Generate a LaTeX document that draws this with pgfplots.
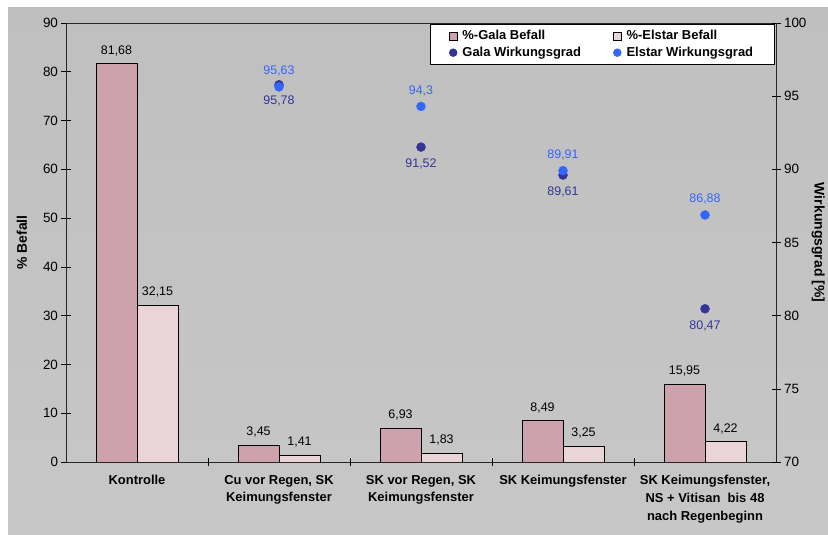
\documentclass[border=0pt]{standalone}
\usepackage{pgfplots}
\pgfplotsset{compat=1.18}
\usepackage{fontspec}
\setmainfont{Liberation Sans}
\definecolor{galabar}{RGB}{206,162,172}
\definecolor{elstarbar}{RGB}{233,212,216}
\definecolor{galadot}{RGB}{51,51,153}
\definecolor{elstardot}{RGB}{51,102,255}
\begin{document}
\begin{tikzpicture}
\fill[white] (0,0) rectangle (828bp,535bp);
\useasboundingbox (0,0) rectangle (828bp,535bp);
\shade[top color=black!25, middle color=black!4, bottom color=black!22] (8bp,0bp) rectangle (828bp,527bp);
\begin{axis}[
  at={(66bp,73bp)}, anchor=south west, scale only axis,
  width=710bp, height=439bp,
  xmin=-0.5, xmax=4.5, ymin=0, ymax=90,
  ybar=0pt, bar width=41bp,
  ytick={0,10,...,90}, ytick pos=left, xtick pos=bottom,
  xtick={0,...,4},
  xticklabels={Kontrolle,{Cu vor Regen, SK\\Keimungsfenster},{SK vor Regen, SK\\Keimungsfenster},SK Keimungsfenster,{SK Keimungsfenster,\\NS + Vitisan\ \ bis 48\\nach Regenbeginn}},
  major x tick style={draw=none},
  minor xtick={0.5,1.5,2.5,3.5},
  minor tick length=9bp, major tick length=9bp,
  tick align=center,
  tick style={black, line width=0.6pt},
  axis line style={black!85, line width=0.9pt},
  xticklabel style={align=center, font=\fontsize{13}{18}\selectfont\bfseries, yshift=-5bp},
  yticklabel style={font=\fontsize{13.5}{15}\selectfont},
  /pgf/number format/assume math mode=true,
  ylabel={\% Befall},
  every axis y label/.style={at={(rel axis cs:-0.062,0.5)}, rotate=90, anchor=center, font=\fontsize{14}{16}\selectfont\bfseries},
  nodes near coords,
  every node near coord/.append style={font=\fontsize{12.5}{14}\selectfont, black, anchor=south, yshift=4bp},
  /pgf/number format/.cd, use comma, fixed, precision=2,
]
\addplot[fill=galabar, draw=black, line width=0.6pt] coordinates {(0,81.68) (1,3.45) (2,6.93) (3,8.49) (4,15.95)};
\addplot[fill=elstarbar, draw=black, line width=0.6pt] coordinates {(0,32.15) (1,1.41) (2,1.83) (3,3.25) (4,4.22)};
\end{axis}
\begin{axis}[
  at={(66bp,73bp)}, anchor=south west, scale only axis,
  width=710bp, height=439bp,
  xmin=-0.5, xmax=4.5, ymin=70, ymax=100,
  axis y line*=right, axis x line=none,
  ytick={70,75,...,100},
  major tick length=9bp, tick align=center,
  tick style={black, line width=0.6pt},
  axis line style={black!85, line width=0.9pt},
  yticklabel style={font=\fontsize{13.5}{15}\selectfont},
  /pgf/number format/assume math mode=true,
  ylabel={Wirkungsgrad [\%]},
  every axis y label/.style={at={(rel axis cs:1.0595,0.5)}, rotate=-90, anchor=center, font=\fontsize{14}{16}\selectfont\bfseries},
  legend columns=2,
  legend style={at={(rel axis cs:1,1)}, anchor=north east, xshift=-1.5bp, yshift=-1bp,
    draw=black, line width=0.8pt, fill=white, font=\fontsize{13}{15}\selectfont\bfseries,
    cells={anchor=west}, inner xsep=19bp, inner ysep=4bp, row sep=2bp,
    /tikz/every odd column/.append style={column sep=3bp},
    /tikz/every even column/.append style={column sep=30bp}},
  /pgf/number format/.cd, use comma, fixed, precision=2,
]
\addlegendimage{legend image code/.code={\draw[fill=galabar, draw=black, line width=0.5pt] (0bp,-4bp) rectangle (8bp,4bp);}}
\addlegendentry{\%-Gala Befall}
\addlegendimage{legend image code/.code={\draw[fill=elstarbar, draw=black, line width=0.5pt] (0bp,-4bp) rectangle (8bp,4bp);}}
\addlegendentry{\%-Elstar Befall}
\addplot[only marks, mark=*, mark size=4.5bp, galadot, mark options={draw=galadot, fill=galadot},
  nodes near coords, every node near coord/.append style={font=\fontsize{12.5}{14}\selectfont, galadot, anchor=north, yshift=-8bp},
  legend image code/.code={\fill[galadot] (4bp,0) circle (3.8bp);}]
  coordinates {(1,95.78) (2,91.52) (3,89.61) (4,80.47)};
\addlegendentry{Gala Wirkungsgrad}
\addplot[only marks, mark=*, mark size=4.5bp, elstardot, mark options={draw=elstardot, fill=elstardot},
  nodes near coords, every node near coord/.append style={font=\fontsize{12.5}{14}\selectfont, elstardot, anchor=south, yshift=7bp},
  legend image code/.code={\fill[elstardot] (4bp,0) circle (3.8bp);}]
  coordinates {(1,95.63) (2,94.3) (3,89.91) (4,86.88)};
\addlegendentry{Elstar Wirkungsgrad}
\end{axis}
\end{tikzpicture}
\end{document}
